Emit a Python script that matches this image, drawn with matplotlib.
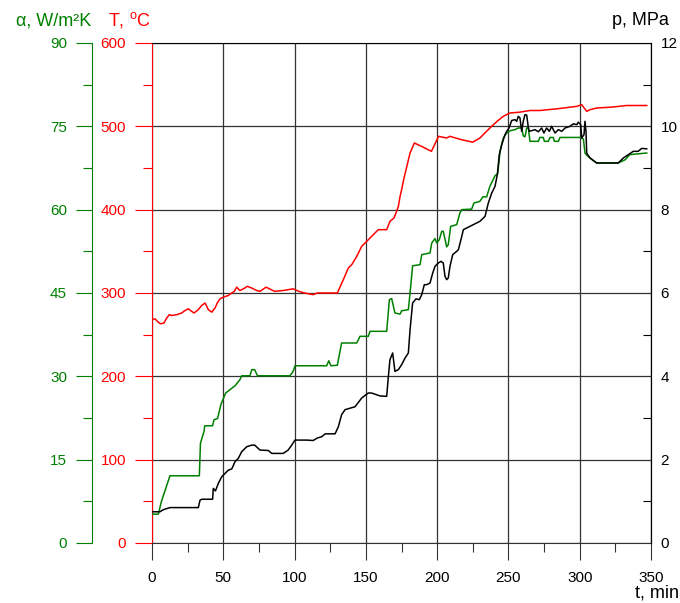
import matplotlib.pyplot as plt
from matplotlib.ticker import MultipleLocator

plt.rcParams['font.family'] = ['Liberation Sans', 'DejaVu Sans']
plt.rcParams['mathtext.fontset'] = 'custom'
plt.rcParams['mathtext.rm'] = 'Liberation Sans'
plt.rcParams['font.size'] = 11

RED = '#ff0000'
GREEN = '#008000'
GRID = '#333333'

# temperature T, degC
t_T = [0, 2.1, 4.4, 6.1, 8.4, 10.3, 12.2, 13.8, 17.3, 20.8, 23.1, 25.5, 27.8, 29.5,
       32.5, 34.8, 37.2, 39.5, 41.9, 44.2, 45.8, 47.7, 50, 53.5, 55.9, 57.7, 59.4,
       60.5, 61.7, 64.1, 66.9, 69.9, 73.4, 75.8, 80, 86, 92, 99, 103, 107, 113, 116,
       122, 130, 134.2, 137.7, 140.1, 143.6, 147.1, 150.6, 154.1, 156.4, 158.7,
       164.6, 166.9, 169.7, 171.6, 172.8, 174, 175.1, 176.5, 181, 184, 189, 196,
       201, 206.6, 209, 217, 225, 230, 237, 242, 246.4, 251, 258, 265, 272, 284,
       298, 301.4, 304.9, 307.2, 312, 322, 333, 347]
T_vals = [268, 269, 265, 263, 264, 270, 274, 273, 274, 276, 279, 281, 278, 276,
          280, 285, 288, 280, 277, 282, 288, 293, 295, 297, 300, 302, 307,
          305, 303, 305, 308, 306, 303, 302, 307, 302, 303, 305, 302, 300, 298, 300,
          300, 300, 316, 330, 334, 344, 356, 362, 368, 372, 376,
          376, 386, 390, 398, 404, 416, 424, 436, 468, 480, 476, 470,
          488, 486, 488, 484, 481, 486, 498, 506, 512, 516, 517, 519, 519, 521,
          524, 526, 518, 520, 522, 523, 525, 525]

# heat transfer coefficient alpha, W/m2K
t_a = [0, 4.5, 6.5, 12.6, 33.2, 34, 36.5, 37, 42.5, 43.5, 46, 48.4, 51.7, 54.2,
       58.2, 61.7, 62.9, 68.7, 70, 72, 74, 96.8, 99, 100.3, 122.5, 124, 125.5,
       130, 133, 143.6, 145.9, 151.7, 152.9, 164.6, 166.5, 168.1, 170.4, 174,
       175.1, 179.8, 181, 182.8, 188, 189.2, 195, 196.2, 198.5, 199.7, 201.5,
       203.2, 204.3, 206.7, 207.8, 209.5, 213.7, 216, 217.2, 224.2, 225.8, 230,
       232, 234.7, 237, 240.6, 242.5, 244.1, 246.4, 248.8, 251.1, 254.6, 256.9,
       259.3, 260.4, 261.6, 262.8, 264, 265.1, 271, 272.1, 274.5, 275.2, 278,
       279.2, 281.5, 282.2, 285, 286.2, 300.7, 302.6, 303.7, 304.9, 307.2, 311.9,
       327, 332, 335, 347]
a_vals = [5.2, 5.2, 7.4, 12.1, 12.1, 18, 20.1, 21.1, 21.1, 22.2, 22.4, 25, 27, 27.5,
          28.3, 29.4, 30.1, 30.1, 31.2, 31.2, 30.1, 30.1, 30.9, 31.9, 31.9, 32.8, 31.9,
          32, 36, 36, 37.2, 37.2, 38.1, 38.1, 43.8, 44.0, 41.4, 41.2,
          41.8, 42.0, 45, 49.9, 50.1, 51.9, 52.2, 54, 54.8, 54, 54.6,
          56.1, 56.1, 53.3, 53.7, 57, 57.3, 59.4, 60, 60.1, 61.2, 61.5,
          62.3, 62.3, 64.2, 66.1, 66.5, 70.5, 72.9, 73.8, 74.2, 74.4, 74.7,
          74.7, 73.3, 73.1, 74.7, 74.7, 72.3, 72.3, 73.0, 73.0, 72.3, 72.3,
          73.0, 73.0, 72.3, 72.3, 73.0, 73.0, 72.7, 70.2, 69.8, 69.3, 68.4,
          68.4, 69, 69.9, 70.2]

# pressure p, MPa
t_p = [0, 5.6, 8, 12.6, 32.5, 33.7, 35, 42.5, 43, 44.5, 46.5, 48.9, 51.3, 53.6,
       56, 58.2, 60.5, 62.9, 66.4, 70, 72, 75.8, 81.6, 84, 92, 95.5, 98, 100.3,
       108.5, 113, 116, 119, 121.5, 128.4, 130.7, 133, 135.4, 142.4, 147.1, 151.7,
       154, 159.9, 164.6, 165.8, 166.9, 168.8, 170.4, 172.8, 175.1, 177.5, 179.8,
       181, 182.8, 185.2, 187.5, 189.2, 191, 192.7, 195, 196.9, 198.5, 200.8,
       202.7, 204.3, 205.5, 206.7, 207.8, 209, 210.9, 213.7, 214.9, 216.7, 218.4,
       220.7, 223, 225.4, 227.7, 230, 233.6, 235.9, 238.3, 240.6, 242.2, 243.6,
       245.3, 247.6, 248.8, 250.4, 252.3, 254.6, 255.8, 256.9, 258.1, 259.3,
       260.4, 261.6, 262.8, 264, 264.6, 268.6, 271, 273.3, 274.9, 276.8, 278.7,
       280.3, 282.7, 285, 287.4, 289.7, 293.2, 295.5, 297.9, 299, 300.7, 301.4,
       303, 303.7, 304.4, 304.9, 307.2, 311.9, 327, 330.6, 334.1, 337.6, 341,
       343.5, 347]
p_vals = [0.75, 0.75, 0.8, 0.85, 0.85, 1.03, 1.05, 1.05, 1.31, 1.25, 1.43, 1.59, 1.67, 1.75,
          1.78, 1.95, 2.03, 2.19, 2.31, 2.35, 2.35, 2.23, 2.22, 2.15, 2.15, 2.23, 2.35, 2.47,
          2.47, 2.46, 2.52, 2.55, 2.62, 2.62, 2.79, 3.08, 3.2, 3.27, 3.48, 3.6,
          3.6, 3.53, 3.52, 4.0, 4.4, 4.56, 4.12, 4.16, 4.28, 4.44, 4.56,
          5.12, 5.76, 5.86, 5.84, 5.96, 6.2, 6.2, 6.24, 6.48, 6.64, 6.72,
          6.76, 6.72, 6.4, 6.32, 6.36, 6.64, 6.92, 7.0, 7.04, 7.28, 7.52,
          7.56, 7.6, 7.64, 7.68, 7.72, 7.84, 8.16, 8.4, 8.56, 8.84, 9.32,
          9.56, 9.8, 9.88, 9.96, 10.14, 10.16, 10.12, 10.24, 10.2, 9.88,
          10.12, 10.28, 10.27, 9.96, 9.88, 9.92, 9.87, 9.96, 9.84, 9.96, 9.88,
          10.0, 9.84, 9.92, 9.88, 9.96, 10.0, 10.06, 10.04, 10.1, 10.04, 9.72,
          9.8, 10.12, 9.88, 9.36, 9.24, 9.12, 9.12, 9.24, 9.32, 9.4, 9.4,
          9.47, 9.46]

fig = plt.figure(figsize=(6.8, 6.03), dpi=100)
ax = fig.add_axes([152 / 680, 60 / 603, 499 / 680, 500 / 603])

ax.plot(t_T, T_vals, color=RED, lw=1.1)
ax.set_xlim(0, 350)
ax.set_ylim(0, 600)
ax.xaxis.set_major_locator(MultipleLocator(50))
ax.xaxis.set_minor_locator(MultipleLocator(25))
ax.yaxis.set_major_locator(MultipleLocator(100))
ax.yaxis.set_minor_locator(MultipleLocator(50))
ax.grid(True, which='major', color=GRID, lw=0.9)
ax.tick_params(axis='x', which='major', direction='out', length=12.2, width=0.8,
               color=GRID, pad=8, labelsize=11)
ax.tick_params(axis='x', which='minor', direction='out', length=6.5, width=0.8, color=GRID)
ax.tick_params(axis='y', which='major', direction='out', length=12.2, width=0.8,
               color=RED, labelcolor=RED, pad=6.5, labelsize=11)
ax.tick_params(axis='y', which='minor', direction='out', length=6.5, width=0.8, color=RED)
ax.spines['left'].set_color(RED)
ax.spines['bottom'].set_color(GRID)
ax.spines['top'].set_color('black')
ax.spines['right'].set_color('black')
for s in ax.spines.values():
    s.set_linewidth(0.8)

# alpha axis, moved to the left
ax_a = ax.twinx()
ax_a.plot(t_a, a_vals, color=GREEN, lw=1.1)
ax_a.set_ylim(0, 90)
ax_a.yaxis.tick_left()
ax_a.yaxis.set_major_locator(MultipleLocator(15))
ax_a.yaxis.set_minor_locator(MultipleLocator(7.5))
ax_a.spines['left'].set_position(('axes', -60 / 499))
ax_a.spines['left'].set_visible(True)
ax_a.spines['left'].set_color(GREEN)
ax_a.spines['left'].set_linewidth(0.8)
for k in ['right', 'top', 'bottom']:
    ax_a.spines[k].set_visible(False)
ax_a.tick_params(axis='y', which='major', direction='out', length=11.5, width=0.8,
                 color=GREEN, labelcolor=GREEN, pad=6.5, labelsize=11)
ax_a.tick_params(axis='y', which='minor', direction='out', length=6.5, width=0.8, color=GREEN)

# pressure axis on the right
ax_p = ax.twinx()
ax_p.plot(t_p, p_vals, color='black', lw=1.1)
ax_p.set_ylim(0, 12)
ax_p.yaxis.set_major_locator(MultipleLocator(2))
ax_p.yaxis.set_minor_locator(MultipleLocator(1))
for k in ['left', 'top', 'bottom']:
    ax_p.spines[k].set_visible(False)
ax_p.spines['right'].set_color('black')
ax_p.spines['right'].set_linewidth(0.8)
ax_p.tick_params(axis='y', which='major', direction='out', length=0, pad=7, labelsize=11)
ax_p.tick_params(axis='y', which='minor', direction='in', length=5.8, width=0.8, color='black')

fig.text(15.5 / 680, 1 - 25 / 603, 'α, W/m²K', color=GREEN, fontsize=13, va='baseline')
fig.text(108 / 680, 1 - 25 / 603, 'T, $^{\\mathrm{o}}$C', color=RED, fontsize=13, va='baseline')
fig.text(669 / 680, 1 - 25 / 603, 'p, MPa', color='black', fontsize=13, va='baseline', ha='right')
fig.text(679 / 680, 1 - 598 / 603, 't, min', color='black', fontsize=13, va='baseline', ha='right')

fig.savefig('out.png', dpi=100)
